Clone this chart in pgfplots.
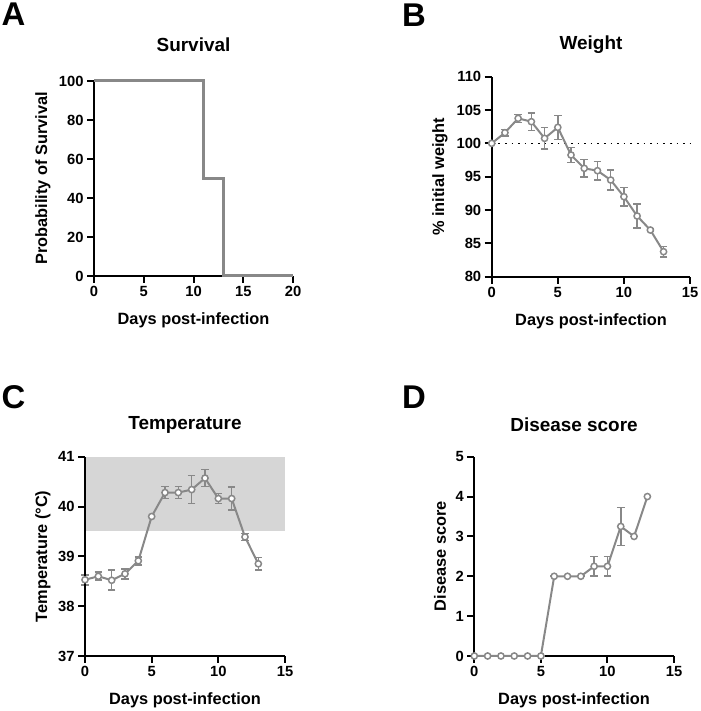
\documentclass[border=0pt]{standalone}
\usepackage{fontspec}
\setmainfont{Liberation Sans}
\usepackage{pgfplots}
\pgfplotsset{compat=1.18}
\usepackage{pgfplotstable}
\definecolor{datagray}{RGB}{136,136,136}
\definecolor{bandgray}{RGB}{214,214,214}

\pgfplotstableread{
d v e
0 100 0
1 101.6 0.5
2 103.75 0.6
3 103.25 1.3
4 100.75 1.6
5 102.4 1.8
6 98.25 1.1
7 96.25 1.3
8 95.9 1.4
9 94.5 1.5
10 92.0 1.4
11 89.1 1.8
12 87.0 0.2
13 83.75 0.8
}\weight

\pgfplotstableread{
d v e
0 38.53 0.10
1 38.60 0.08
2 38.52 0.20
3 38.65 0.10
4 38.91 0.08
5 39.80 0.0
6 40.28 0.12
7 40.28 0.12
8 40.34 0.28
9 40.57 0.17
10 40.16 0.10
11 40.16 0.23
12 39.39 0.07
13 38.85 0.13
}\temp

\pgfplotstableread{
d v e
0 0 0
1 0 0
2 0 0
3 0 0
4 0 0
5 0 0
6 2 0
7 2 0
8 2 0
9 2.25 0.25
10 2.25 0.25
11 3.25 0.48
12 3 0
13 4 0
}\score

\pgfplotsset{
  prism/.style={
    scale only axis,
    anchor=south west,
    axis x line*=bottom,
    axis y line*=left,
    axis line style={-, black, line width=2.2bp},
    every outer x axis line/.append style={-, black, line width=2.2bp},
    every outer y axis line/.append style={-, black, line width=2.2bp},
    tick align=outside,
    major tick length=7bp,
    every tick/.append style={black, line width=2bp},
    major tick style={black, line width=2bp},
    enlargelimits=false,
    clip=false,
    font=\bfseries\fontsize{14.8}{17}\selectfont,
    tick label style={font=\bfseries\fontsize{14.8}{17}\selectfont},
    /pgf/number format/assume math mode=true,
    xtick pos=bottom, ytick pos=left,
  },
  datastyle/.style={
    datagray, line width=2bp, mark=*, mark size=3.1bp,
    mark options={fill=white, draw=datagray, line width=1.5bp},
    error bars/.cd, y dir=both, y explicit,
    error bar style={line width=1.6bp, datagray},
    error mark options={rotate=90, mark size=3.8bp, line width=1.6bp, datagray},
  },
}

\newcommand{\ttl}[1]{\node[font=\bfseries\fontsize{19}{22}\selectfont] at #1}
\newcommand{\lbl}{\bfseries\fontsize{16.4}{19}\selectfont}

\begin{document}
\begin{tikzpicture}[x=1bp,y=1bp]
\path[use as bounding box] (0,0) rectangle (701,711);

% Panel labels
\node[font=\bfseries\fontsize{33}{36}\selectfont] at (13.5,697) {A};
\node[font=\bfseries\fontsize{33}{36}\selectfont] at (414,696) {B};
\node[font=\bfseries\fontsize{33}{36}\selectfont] at (13.5,314) {C};
\node[font=\bfseries\fontsize{33}{36}\selectfont] at (414,314) {D};

% A: Survival
\begin{axis}[prism, at={(94bp,435bp)}, width=199bp, height=195bp,
  xmin=0, xmax=20, ymin=0, ymax=100,
  xtick={0,5,10,15,20}, ytick={0,20,40,60,80,100}]
\addplot[datagray, line width=3bp, const plot, mark=none]
  coordinates {(0,100) (11,50) (13,0) (20,0)};
\end{axis}
\ttl{(193.5,666)} {Survival};
\node[font=\lbl] at (193.5,391) {Days post-infection};
\node[font=\lbl, rotate=90] at (43,532.5) {Probability of Survival};

% B: Weight
\begin{axis}[prism, at={(491.7bp,434.3bp)}, width=198.3bp, height=200bp,
  xmin=0, xmax=15, ymin=80, ymax=110,
  xtick={0,5,10,15}, ytick={80,85,90,95,100,105,110}]
\addplot[black, line width=1.6bp, dash pattern=on 1.6bp off 5bp, mark=none]
  coordinates {(0,100) (15,100)};
\addplot[datastyle] table[x=d, y=v, y error=e] {\weight};
\end{axis}
\ttl{(591,666)} {Weight};
\node[font=\lbl] at (591,389.5) {Days post-infection};
\node[font=\lbl, rotate=90] at (440,534.3) {\% initial weight};

% C: Temperature
\begin{axis}[prism, at={(85bp,55bp)}, width=200bp, height=199.3bp,
  xmin=0, xmax=15, ymin=37, ymax=41,
  xtick={0,5,10,15}, ytick={37,38,39,40,41}, axis on top]
\addplot[fill=bandgray, draw=none, mark=none]
  coordinates {(0,39.5) (15,39.5) (15,41) (0,41)} -- cycle;
\addplot[datastyle] table[x=d, y=v, y error=e] {\temp};
\end{axis}
\ttl{(185,286)} {Temperature};
\node[font=\lbl] at (185,11) {Days post-infection};
\node[font=\lbl, rotate=90] at (43,154.7) {Temperature (°C)};

% D: Disease score
\begin{axis}[prism, at={(474.3bp,55bp)}, width=199.7bp, height=199.3bp,
  xmin=0, xmax=15, ymin=0, ymax=5,
  xtick={0,5,10,15}, ytick={0,1,2,3,4,5}]
\addplot[datastyle] table[x=d, y=v, y error=e] {\score};
\end{axis}
\ttl{(574,286)} {Disease score};
\node[font=\lbl] at (574,11) {Days post-infection};
\node[font=\lbl, rotate=90] at (440,154.7) {Disease score};

\end{tikzpicture}
\end{document}
